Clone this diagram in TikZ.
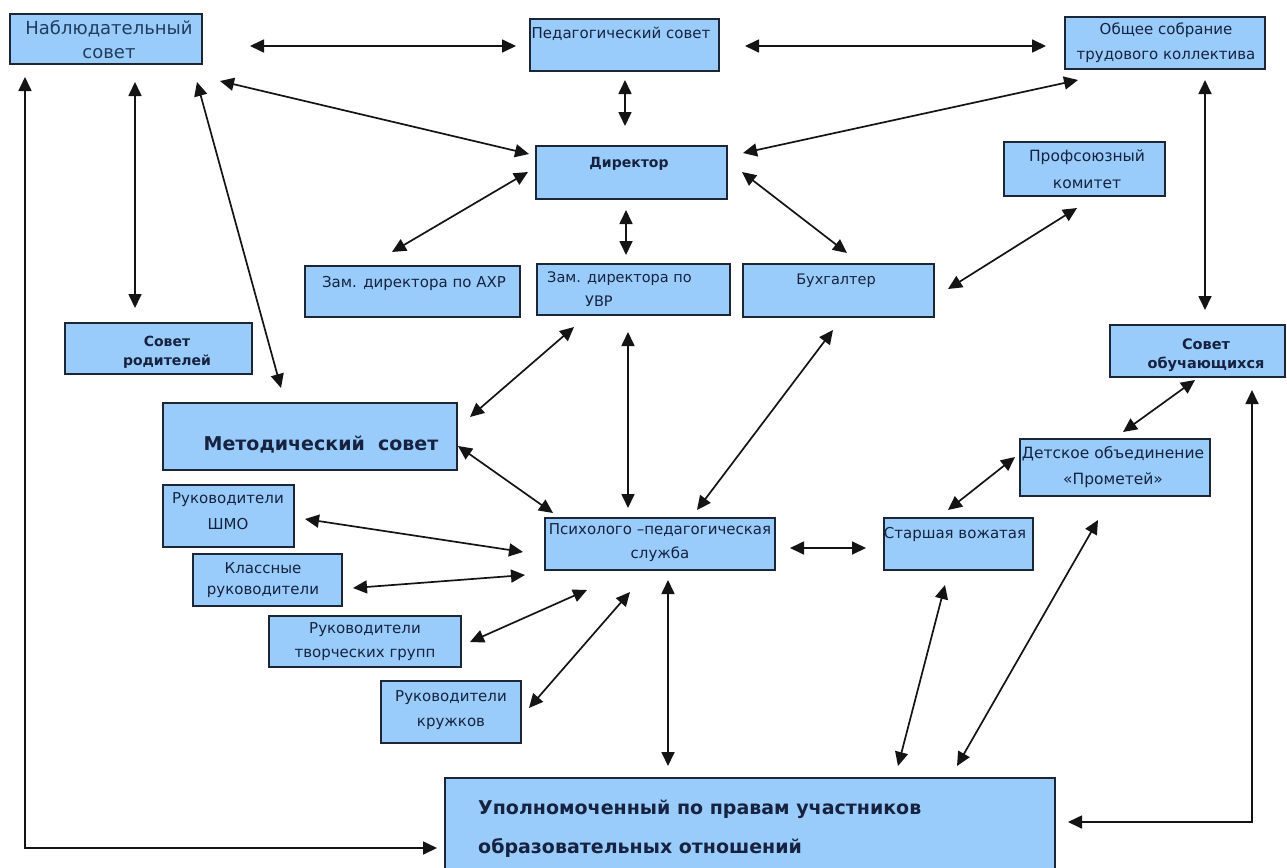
\documentclass[tikz,border=0pt]{standalone}
\usepackage{fontspec}
\setmainfont{DejaVu Sans}
\usetikzlibrary{arrows.meta,fit}
\definecolor{boxfill}{RGB}{153,204,250}
\definecolor{boxline}{RGB}{28,38,52}
\definecolor{txtcol}{RGB}{22,34,64}
\definecolor{txtcolA}{RGB}{32,60,94}
\definecolor{arrcol}{RGB}{20,20,20}
\tikzset{
  box/.style={draw=boxline, line width=1.8pt, fill=boxfill, inner sep=0pt, rectangle},
  txt/.style={text=txtcol, align=center, inner sep=0pt},
  arr/.style={{Triangle[length=14pt,width=13pt]}-{Triangle[length=14pt,width=13pt]}, line width=1.7pt, draw=arrcol},
}
\newcommand{\fs}[1]{\fontsize{#1}{#1}\selectfont}
\begin{document}
\begin{tikzpicture}[x=1pt,y=-1pt]
\useasboundingbox[fill=white] (0,0) rectangle (1287,867);
% boxes
\node[box, fit={(10,14) (202,64)}] (nab) {};
\node[box, fit={(530,19) (719,71)}] (ped) {};
\node[box, fit={(1065,17) (1265,69)}] (obs) {};
\node[box, fit={(536,146) (727,199)}] (dir) {};
\node[box, fit={(1004,142) (1165,196)}] (prof) {};
\node[box, fit={(305,266) (520,317)}] (ahr) {};
\node[box, fit={(537,264) (730,315)}] (uvr) {};
\node[box, fit={(743,264) (934,317)}] (buh) {};
\node[box, fit={(65,323) (252,374)}] (rod) {};
\node[box, fit={(1110,325) (1285,377)}] (obu) {};
\node[box, fit={(163,403) (457,470)}] (met) {};
\node[box, fit={(1020,439) (1210,496)}] (det) {};
\node[box, fit={(163,485) (294,547)}] (shmo) {};
\node[box, fit={(545,518) (775,570)}] (psy) {};
\node[box, fit={(884,518) (1033,570)}] (vozh) {};
\node[box, fit={(193,554) (342,606)}] (kl) {};
\node[box, fit={(269,616) (461,667)}] (tvor) {};
\node[box, fit={(381,681) (521,743)}] (kruzh) {};
\node[box, fit={(445,778) (1055,880)}] (upo) {};
% texts
\node[txt, text=txtcolA, font=\fs{18}, align=center] (t1) at (109,40) {Наблюдательный\\[6pt]совет};
\node[txt, font=\fs{15}] (t2) at (621,34) {Педагогический совет};
\node[txt, font=\fs{15}] (t3) at (1166,43) {Общее собрание\\[10pt]трудового коллектива};
\node[txt, font=\bfseries\fs{14}] (t4) at (629,164) {Директор};
\node[txt, font=\fs{15.5}] (t5) at (1087,169) {Профсоюзный\\[11pt]комитет};
\node[txt, font=\fs{15}] (t6) at (414,283) {Зам. директора по АХР};
\node[txt, font=\fs{14.5}, align=left, anchor=north west] (t7) at (547,272) {Зам. директора по\\[9pt]\hspace*{38pt}УВР};
\node[txt, font=\fs{14.5}] (t8) at (836,281) {Бухгалтер};
\node[txt, font=\bfseries\fs{14}] (t9) at (167,352) {Совет\\[5pt]родителей};
\node[txt, font=\bfseries\fs{14.5}] (t10) at (1206,355) {Совет\\[5pt]обучающихся};
\node[txt, font=\bfseries\fs{19}] (t11) at (321,445) {Методический\ \ совет};
\node[txt, font=\fs{15.5}] (t12) at (1113,467) {Детское объединение\\[10pt]«Прометей»};
\node[txt, font=\fs{15}] (t13) at (228,511) {Руководители\\[11pt]ШМО};
\node[txt, font=\fs{15}] (t14) at (660,543) {Психолого –педагогическая\\[9pt]служба};
\node[txt, font=\fs{15}] (t15) at (955,534) {Старшая вожатая};
\node[txt, font=\fs{15}] (t16) at (263,580) {Классные\\[6pt]руководители};
\node[txt, font=\fs{15}] (t17) at (365,642) {Руководители\\[9pt]творческих групп};
\node[txt, font=\fs{15}] (t18) at (451,710) {Руководители\\[10pt]кружков};
\node[txt, font=\bfseries\fs{19}, align=left, anchor=west] (t19) at (478,829) {Уполномоченный по правам участников\\[19pt]образовательных отношений};
% arrow end points
\coordinate (a1) at (250,46);   \coordinate (a2) at (516,46);
\coordinate (b1) at (745,46);   \coordinate (b2) at (1046,46);
\coordinate (c1) at (625,80);   \coordinate (c2) at (625,126);
\coordinate (d1) at (220,81);   \coordinate (d2) at (529,154);
\coordinate (e1) at (1078,80);  \coordinate (e2) at (743,153);
\coordinate (f1) at (528,172);  \coordinate (f2) at (392,252);
\coordinate (g1) at (626,210);  \coordinate (g2) at (626,255);
\coordinate (h1) at (742,172);  \coordinate (h2) at (847,253);
\coordinate (i1) at (1077,208); \coordinate (i2) at (948,289);
\coordinate (j1) at (135,82);   \coordinate (j2) at (135,308);
\coordinate (k1) at (197,82);   \coordinate (k2) at (281,388);
\coordinate (l1) at (25,77);    \coordinate (l2) at (437,848);
\coordinate (m1) at (1205,80);  \coordinate (m2) at (1205,310);
\coordinate (n1) at (1252,390); \coordinate (n2) at (1068,822);
\coordinate (o1) at (1195,380); \coordinate (o2) at (1123,432);
\coordinate (p1) at (1015,457); \coordinate (p2) at (948,510);
\coordinate (q1) at (574,327);  \coordinate (q2) at (470,417);
\coordinate (r1) at (628,332);  \coordinate (r2) at (628,508);
\coordinate (s1) at (833,330);  \coordinate (s2) at (697,510);
\coordinate (u1) at (458,446);  \coordinate (u2) at (553,513);
\coordinate (v1) at (790,548);  \coordinate (v2) at (866,548);
\coordinate (w1) at (305,519);  \coordinate (w2) at (523,552);
\coordinate (x1) at (353,588);  \coordinate (x2) at (525,575);
\coordinate (y1) at (470,642);  \coordinate (y2) at (587,590);
\coordinate (z1) at (529,708);  \coordinate (z2) at (630,592);
\coordinate (aa1) at (668,580); \coordinate (aa2) at (668,766);
\coordinate (ab1) at (945,585); \coordinate (ab2) at (898,766);
\coordinate (ac1) at (1098,520);\coordinate (ac2) at (957,766);
% arrows
\draw[arr] (a1) -- (a2);
\draw[arr] (b1) -- (b2);
\draw[arr] (c1) -- (c2);
\draw[arr] (d1) -- (d2);
\draw[arr] (e1) -- (e2);
\draw[arr] (f1) -- (f2);
\draw[arr] (g1) -- (g2);
\draw[arr] (h1) -- (h2);
\draw[arr] (i1) -- (i2);
\draw[arr] (j1) -- (j2);
\draw[arr] (k1) -- (k2);
\draw[arr] (l1) |- (l2);
\draw[arr] (m1) -- (m2);
\draw[arr] (n1) |- (n2);
\draw[arr] (o1) -- (o2);
\draw[arr] (p1) -- (p2);
\draw[arr] (q1) -- (q2);
\draw[arr] (r1) -- (r2);
\draw[arr] (s1) -- (s2);
\draw[arr] (u1) -- (u2);
\draw[arr] (v1) -- (v2);
\draw[arr] (w1) -- (w2);
\draw[arr] (x1) -- (x2);
\draw[arr] (y1) -- (y2);
\draw[arr] (z1) -- (z2);
\draw[arr] (aa1) -- (aa2);
\draw[arr] (ab1) -- (ab2);
\draw[arr] (ac1) -- (ac2);
\end{tikzpicture}
\end{document}
